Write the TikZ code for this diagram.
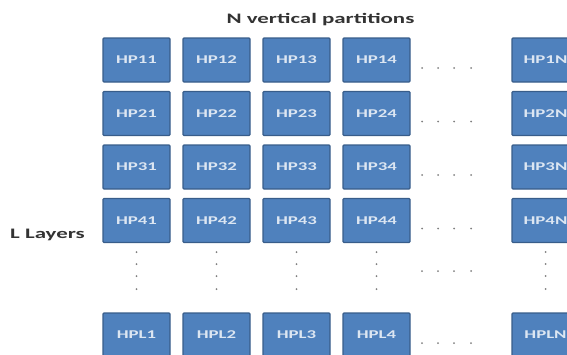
\documentclass[tikz,border=0pt]{standalone}
\usepackage{fontspec}
\newfontfamily\cfont[FakeStretch=1.58]{Carlito}
\definecolor{boxfill}{HTML}{4F81BD}
\definecolor{boxline}{HTML}{385D8A}
\definecolor{boxtext}{HTML}{DCE6F2}
\definecolor{labeltext}{HTML}{333333}
\definecolor{dotcol}{HTML}{7F7F7F}
\begin{document}
\begin{tikzpicture}[x=1pt,y=-1pt,
  hp/.style={draw=boxline, line width=1.2pt, fill=boxfill, rounded corners=1pt,
    minimum width=67pt, minimum height=44pt, inner sep=0pt, text=boxtext,
    font=\cfont\bfseries\fontsize{11.9}{12}\selectfont},
  lbl/.style={text=labeltext, inner sep=0pt,
    font=\cfont\bfseries\fontsize{14.5}{16}\selectfont},
  pdot/.style={circle, fill=dotcol, inner sep=0pt, minimum size=2pt}]
\useasboundingbox (0,0) rectangle (567,354);
\clip (0,0) rectangle (567,354);
% boxes and horizontal dots per row
\foreach \r/\y in {1/60,2/113.5,3/167,4/220.5,L/335} {
  \foreach \c/\x in {1/136.5,2/216.5,3/296.5,4/376.5,N/545.5}
    \node[hp] (hp\r\c) at (\x,\y) {HP\r\c};
  \foreach \k/\dx in {1/422,2/438,3/454,4/471}
    \node[pdot] (h\r\k) at (\dx,\y+8) {};
}
% vertical dots
\foreach \c/\x in {1/136.5,2/216.5,3/296.5,4/376.5,N/545.5}
  \foreach \k/\vy in {1/252,2/264,3/276,4/289}
    \node[pdot] (v\c\k) at (\x,\vy) {};
% middle horizontal dots
\foreach \k/\dx in {1/422,2/438,3/454,4/471}
  \node[pdot] (m\k) at (\dx,271) {};
% labels
\node[lbl, anchor=base] (title) at (320.5,23) {N vertical partitions};
\node[lbl, anchor=base west] (layers) at (10,238) {L Layers};
\end{tikzpicture}
\end{document}
